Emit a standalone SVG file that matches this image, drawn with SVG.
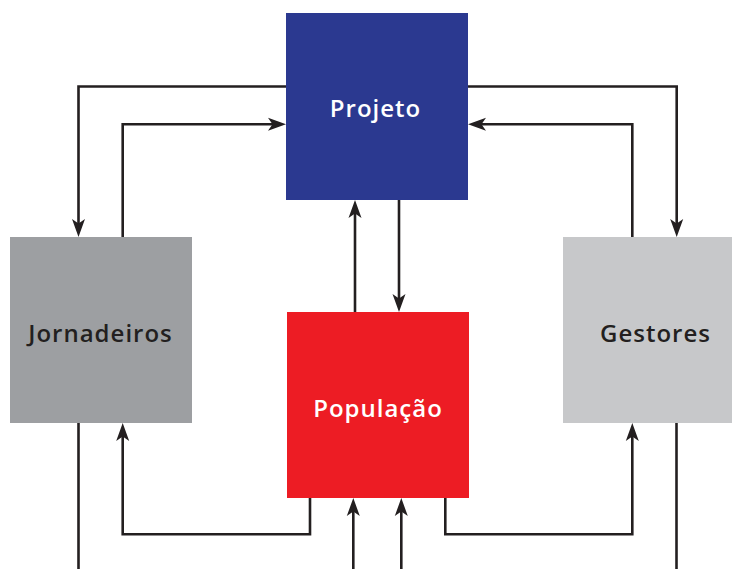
<svg xmlns="http://www.w3.org/2000/svg" width="732" height="569" viewBox="0 0 732 569">
<style>
.c{fill:none;stroke:#231f20;stroke-width:2.6;stroke-linejoin:miter}
.a{marker-end:url(#ah)}
.t{font-family:"Open Sans",Lato,sans-serif;font-weight:600;font-size:24px;letter-spacing:1px;text-anchor:middle}
</style>
<defs>
<marker id="ah" markerUnits="userSpaceOnUse" viewBox="-19 -7 20 14" refX="-8" refY="0" markerWidth="20" markerHeight="14" orient="auto">
<path d="M0,0 L-18,-6.5 L-13.5,0 L-18,6.5 Z" fill="#231f20"/>
</marker>
</defs>
<g id="projeto"><rect x="286" y="13" width="182" height="187" fill="#2b3990"/><text class="t" x="375.5" y="116.7" fill="#fff">Projeto</text></g>
<g id="jornadeiros"><rect x="10" y="237" width="182" height="186" fill="#9d9fa2"/><text class="t" x="100.5" y="341.7" fill="#231f20">Jornadeiros</text></g>
<g id="populacao"><rect x="287" y="312" width="182" height="186" fill="#ed1c24"/><text class="t" x="378" y="416.5" fill="#fff">População</text></g>
<g id="gestores"><rect x="563" y="237" width="182" height="186" fill="#c7c8ca"/><text class="t" x="655.5" y="341.7" fill="#231f20">Gestores</text></g>
<g id="connectors">
<path class="c a" d="M286,86.5 H78.5 V229"/>
<path class="c a" d="M122.7,237 V124.3 H278"/>
<path class="c a" d="M468,86.5 H676.7 V229"/>
<path class="c a" d="M632.3,237 V124.3 H476"/>
<path class="c a" d="M355,312 V208"/>
<path class="c a" d="M399,200 V304"/>
<path class="c a" d="M310,498 V534.3 H122.7 V431"/>
<path class="c a" d="M445.3,498 V534.3 H632.3 V431"/>
<path class="c" d="M78.5,423 V569"/>
<path class="c" d="M676.5,423 V569"/>
<path class="c a" d="M353.3,569 V506"/>
<path class="c a" d="M401.3,569 V506"/>
</g>
</svg>
